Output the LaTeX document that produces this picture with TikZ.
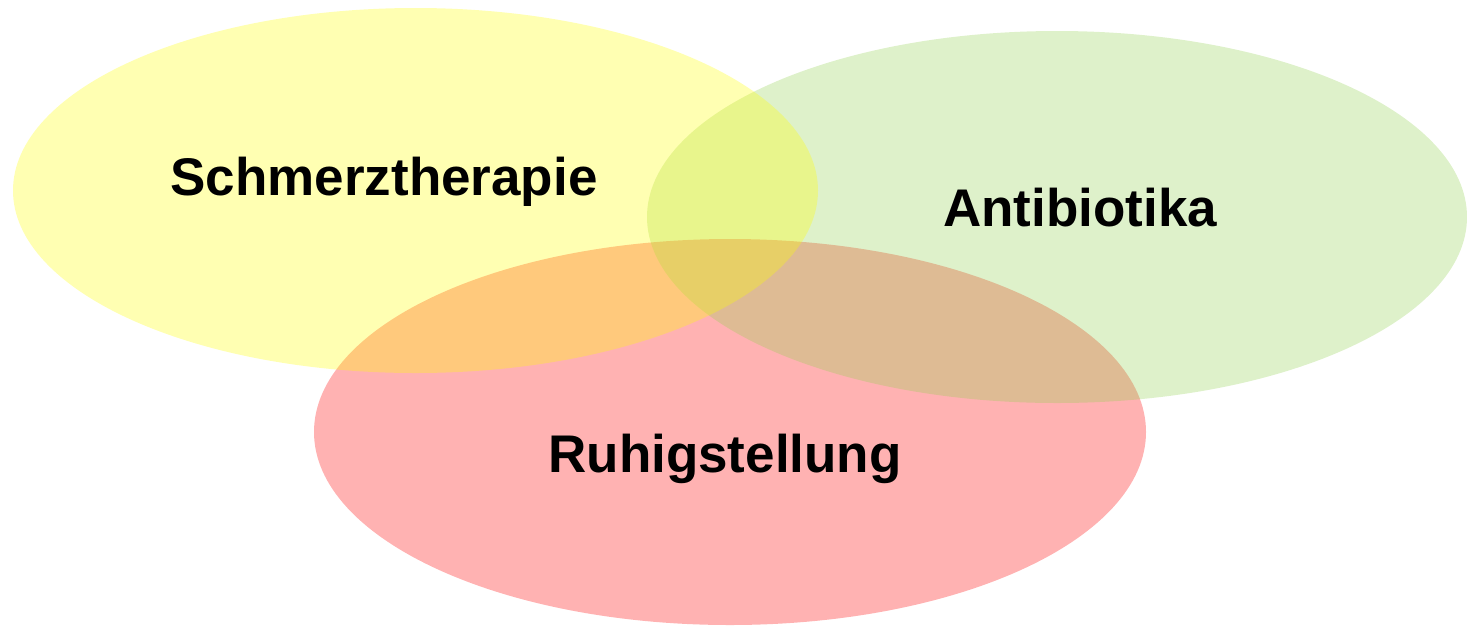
\documentclass[tikz,border=0pt]{standalone}
\usepackage{fontspec}
\setmainfont{Liberation Sans}
\definecolor{vyellow}{HTML}{FFFF00}
\definecolor{vgreen}{HTML}{92D050}
\definecolor{vred}{HTML}{FF0000}
\tikzset{
  setfill/.style={fill=#1, fill opacity=0.3, draw=none},
  setlabel/.style={anchor=base, inner sep=0pt, text=black, font=\fontsize{53}{60}\selectfont\bfseries}
}
\begin{document}
\begin{tikzpicture}[x=1pt, y=-1pt]
\useasboundingbox (0,0) rectangle (1467,625);
% red (bottom), green, yellow (top)
\fill[setfill=vred] (730,432) ellipse [x radius=416, y radius=193];
\fill[setfill=vgreen] (1057,217) ellipse [x radius=410, y radius=186];
\fill[setfill=vyellow] (415.5,190.5) ellipse [x radius=402.5, y radius=182.5];
\node[setlabel] (schmerz) at (384,195) {Schmerztherapie};
\node[setlabel] (anti) at (1080,226) {Antibiotika};
\node[setlabel] (ruhig) at (725,472) {Ruhigstellung};
\end{tikzpicture}
\end{document}
